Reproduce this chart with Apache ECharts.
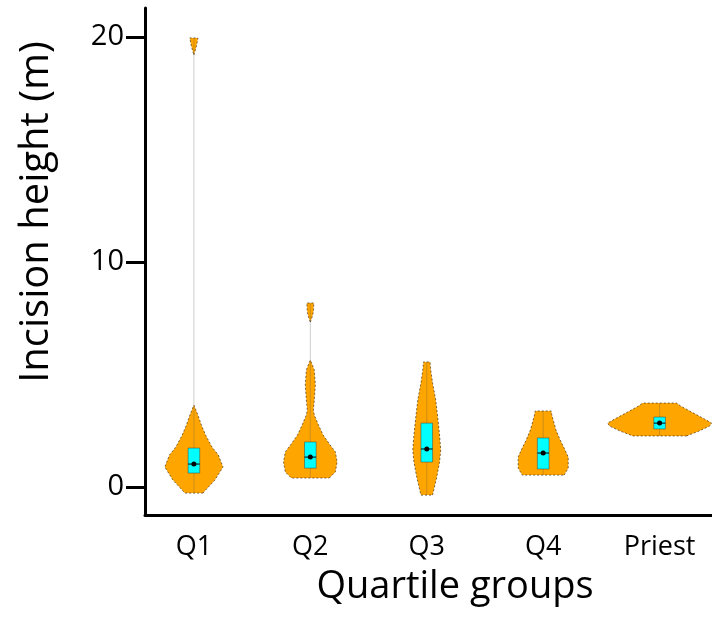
<!DOCTYPE html>
<html>
<head>
<meta charset="utf-8">
<script src="https://cdn.jsdelivr.net/npm/echarts@6/dist/echarts.min.js"></script>
<style>
  html, body { margin: 0; padding: 0; background: #fff; }
  #chart { width: 712px; height: 639px; }
</style>
</head>
<body>
<div id="chart"></div>
<script>
// groups on the x axis
const groups = ["Q1", "Q2", "Q3", "Q4", "Priest"];

// violin outlines: [height (m), half width in group units]; 0 width = pinch
const q1Violin = [[-0.27, 0.077], [0.31, 0.18], [0.89, 0.25], [1.42, 0.21], [1.78, 0.155],
  [2.31, 0.1], [2.76, 0.064], [3.2, 0.034], [3.64, 0], [19.2, 0], [19.6, 0.022], [19.96, 0.035]];
const q2Violin = [[0.4, 0.163], [0.67, 0.215], [1.11, 0.23], [1.56, 0.215], [1.87, 0.17],
  [2.31, 0.11], [2.76, 0.07], [3.2, 0.034], [3.42, 0.026], [3.87, 0.034], [4.53, 0.043],
  [5.2, 0.034], [5.5, 0.012], [5.64, 0], [7.33, 0], [7.55, 0.015], [7.78, 0.026], [8.18, 0.03]];
const q3Violin = [[-0.36, 0.05], [0.44, 0.086], [1.11, 0.11], [1.64, 0.12], [2.31, 0.11],
  [3.11, 0.094], [3.87, 0.077], [4.62, 0.05], [5.2, 0.034], [5.56, 0.028]];
const q4Violin = [[0.53, 0.18], [0.84, 0.215], [1.33, 0.215], [1.73, 0.18], [2.09, 0.146],
  [2.53, 0.11], [2.98, 0.086], [3.24, 0.073], [3.38, 0.069]];
const priestViolin = [[2.27, 0.23], [2.49, 0.34], [2.71, 0.43], [2.84, 0.446], [3.02, 0.386],
  [3.33, 0.275], [3.6, 0.18], [3.73, 0.146]];
const violins = [q1Violin, q2Violin, q3Violin, q4Violin, priestViolin];

// box stats
const boxLow = [0.62, 0.84, 1.11, 0.8, 2.58];
const boxMedian = [1.02, 1.33, 1.69, 1.51, 2.84];
const boxHigh = [1.73, 2.0, 2.84, 2.18, 3.11];
const whiskerMin = [-0.27, 0.4, -0.36, 0.53, 2.27];
const whiskerMax = [19.96, 8.18, 5.56, 3.38, 3.73];

const yTicks = [0, 10, 20];
const fontFam = "'Open Sans', sans-serif";

let myChart = echarts.init(document.getElementById("chart"));

// split an outline at its zero-width points so pinched parts are not filled
function splitProfile(prof) {
  let parts = [],
    cur = [];
  for (let k = 0; k < prof.length; k++) {
    cur.push(prof[k]);
    if (prof[k][1] === 0 && cur.length > 1) {
      parts.push(cur);
      cur = [prof[k]];
    }
  }
  if (cur.length > 1) parts.push(cur);
  return parts.filter((p) => p.some((q) => q[1] > 0));
}

function renderViolin(params, api) {
  const i = params.dataIndex;
  const children = [];
  splitProfile(violins[i]).forEach(function (prof) {
    const right = prof.map((p) => api.coord([i + p[1], p[0]]));
    const left = prof.slice().reverse().map((p) => api.coord([i - p[1], p[0]]));
    children.push({
      type: "polygon",
      shape: { points: right.concat(left) },
      style: { fill: "#FFA500", stroke: "rgba(80,60,30,0.75)", lineWidth: 1, lineDash: [2, 2] },
    });
  });
  const boxHalf = 0.05;
  const bTL = api.coord([i - boxHalf, boxHigh[i]]);
  const bBR = api.coord([i + boxHalf, boxLow[i]]);
  const med = api.coord([i, boxMedian[i]]);
  const wTop = api.coord([i, whiskerMax[i]]);
  const wBot = api.coord([i, whiskerMin[i]]);
  children.push(
    {
      type: "line",
      shape: { x1: wTop[0], y1: wTop[1], x2: wBot[0], y2: wBot[1] },
      style: { stroke: "rgba(90,90,90,0.3)", lineWidth: 1 },
    },
    {
      type: "rect",
      shape: { x: bTL[0], y: bTL[1], width: bBR[0] - bTL[0], height: bBR[1] - bTL[1] },
      style: { fill: "#00FFFF", stroke: "rgba(60,60,60,0.6)", lineWidth: 0.8 },
    },
    {
      type: "line",
      shape: { x1: bTL[0], y1: med[1], x2: bBR[0], y2: med[1] },
      style: { stroke: "#000", lineWidth: 1 },
    },
    {
      type: "circle",
      shape: { cx: med[0], cy: med[1], r: 2.5 },
      style: { fill: "#000" },
    }
  );
  return { type: "group", children: children };
}

let option = {
  animation: false,
  grid: { left: 145, right: 0, top: 8, bottom: 124 },
  xAxis: {
    type: "value",
    min: -0.42,
    max: 4.45,
    splitLine: { show: false },
    axisTick: { show: false },
    axisLine: { onZero: false, lineStyle: { color: "#000", width: 3 } },
    axisLabel: {
      customValues: [0, 1, 2, 3, 4],
      formatter: (v) => groups[Math.round(v)],
      color: "#000",
      fontSize: 27,
      fontFamily: fontFam,
      margin: 19,
    },
  },
  yAxis: {
    type: "value",
    min: -1.244,
    max: 21.29,
    splitLine: { show: false },
    axisLine: { onZero: false, lineStyle: { color: "#000", width: 3 } },
    axisTick: { customValues: yTicks, length: 19, lineStyle: { color: "#000", width: 3 } },
    axisLabel: {
      customValues: yTicks,
      color: "#000",
      fontSize: 29,
      fontFamily: fontFam,
      margin: 21,
    },
  },
  graphic: [
    {
      type: "text",
      x: 37,
      y: 212,
      rotation: Math.PI / 2,
      style: {
        text: "Incision height (m)",
        fontSize: 40,
        fontFamily: fontFam,
        fill: "#000",
        align: "center",
        verticalAlign: "middle",
      },
    },
    {
      type: "text",
      x: 455,
      y: 587,
      style: {
        text: "Quartile groups",
        fontSize: 38,
        fontFamily: fontFam,
        fill: "#000",
        align: "center",
        verticalAlign: "middle",
      },
    },
  ],
  series: [
    {
      type: "custom",
      renderItem: renderViolin,
      data: groups.map((g, i) => [i]),
      encode: { x: 0 },
    },
  ],
};

myChart.setOption(option);
</script>
</body>
</html>
